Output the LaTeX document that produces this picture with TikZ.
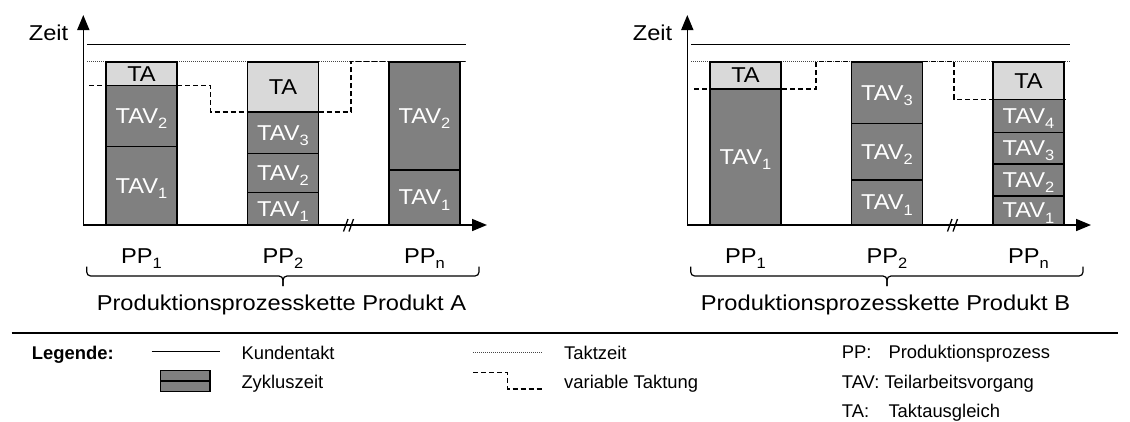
\documentclass[tikz,border=0pt]{standalone}
\usepackage{fontspec}
\usepackage{graphicx}
\setmainfont{Liberation Sans}
\usetikzlibrary{arrows.meta}
\definecolor{barfill}{RGB}{128,128,128}
\definecolor{tafill}{RGB}{217,217,217}
\definecolor{dotgray}{RGB}{70,70,70}
\newcommand\sbs[1]{\raisebox{-0.24em}{\fontsize{15}{15}\selectfont #1}}
\newcommand\st[1]{\scalebox{1.1}[1]{#1}}
\tikzset{
  cfont/.style={font=\fontsize{21.5}{21.5}\selectfont},
  lfont/.style={font=\fontsize{18.4}{18.4}\selectfont},
  seg/.style={draw, line width=1.3, fill=barfill, text=white, cfont, inner sep=0pt,
    text depth=0pt, minimum width=71, anchor=north west, outer sep=0pt},
  taseg/.style={seg, fill=tafill, text=black},
  axisline/.style={line width=1.6, -{Triangle[length=15pt,width=12pt]}},
  kunde/.style={line width=1.3},
  takt/.style={line width=1, dotgray, dash pattern=on 1pt off 1pt},
  vartakt/.style={line width=1.2, dash pattern=on 5pt off 3pt},
  brc/.style={line width=1.2, rounded corners=4},
  brk/.style={line width=1.3},
  lbl/.style={cfont, inner sep=0pt, anchor=base},
  leg/.style={lfont, inner sep=0pt, anchor=base west},
}
% frame of one chart: #1 = name prefix, #2 = product letter
\newcommand\chartframe[2]{%
  \coordinate (#1o) at (83.3,225);
  \coordinate (#1y) at (83.3,15);
  \coordinate (#1x) at (487,225);
  \coordinate (#1k1) at (87,44.3);
  \coordinate (#1k2) at (466,44.3);
  \coordinate (#1t1) at (87,61.7);
  \coordinate (#1t2) at (467,61.7);
  \draw[kunde] (#1k1) -- (#1k2);
  \draw[takt] (#1t1) -- (#1t2);
  \draw[axisline] (#1o) -- (#1y);
  \draw[axisline] (#1o) -- (#1x);
  \coordinate (#1b1a) at (343.5,231.5);
  \coordinate (#1b1b) at (348,219);
  \coordinate (#1b2a) at (349,231.5);
  \coordinate (#1b2b) at (353.5,219);
  \draw[brk] (#1b1a) -- (#1b1b);
  \draw[brk] (#1b2a) -- (#1b2b);
  \node[lbl, anchor=base east] (#1zeit) at (68.5,40.7) {\st{Zeit}};
  \node[lbl] (#1pp1) at (141.5,263) {\st{PP\sbs{1}}};
  \node[lbl] (#1pp2) at (283,263) {\st{PP\sbs{2}}};
  \node[lbl] (#1ppn) at (424.5,263) {\st{PP\sbs{n}}};
  \coordinate (#1bl) at (86.7,266.7);
  \coordinate (#1br) at (479,266.7);
  \coordinate (#1bm) at (283,276);
  \coordinate (#1bt) at (283,286);
  \draw[brc] (#1bl) |- (#1bm) -- (#1bt);
  \draw[brc] (#1br) |- (#1bm) -- (#1bt);
  \node[lbl] (#1chain) at (281.5,310) {\st{Produktionsprozesskette Produkt #2}};
}
\begin{document}
\begin{tikzpicture}[x=1pt, y=-1pt]
\useasboundingbox (0,0) rectangle (1130,421);

% ---------------- Chart A ----------------
\chartframe{A}{A}
\coordinate (Av1) at (89,85.7);
\coordinate (Av2) at (210.7,85.7);
\coordinate (Av3) at (210.7,112);
\coordinate (Av4) at (351,112);
\coordinate (Av5) at (351,61.7);
\coordinate (Av6) at (467,61.7);
\draw[vartakt] (Av1) -- (Av2) -- (Av3) -- (Av4) -- (Av5) -- (Av6);

\node[taseg, minimum height=23.7] (A1ta) at (106,62) {\st{TA}};
\node[seg, minimum height=61]   (A1t2) at (106,85.7) {\st{TAV\sbs{2}}};
\node[seg, minimum height=78.3] (A1t1) at (106,146.7) {\st{TAV\sbs{1}}};

\node[taseg, minimum height=50] (A2ta) at (247.5,62) {\st{TA}};
\node[seg, minimum height=41.3] (A2t3) at (247.5,112) {\st{TAV\sbs{3}}};
\node[seg, minimum height=39.4] (A2t2) at (247.5,153.3) {\st{TAV\sbs{2}}};
\node[seg, minimum height=32.3] (A2t1) at (247.5,192.7) {\st{TAV\sbs{1}}};

\node[seg, minimum height=108] (A3t2) at (389,62) {\st{TAV\sbs{2}}};
\node[seg, minimum height=55]  (A3t1) at (389,170) {\st{TAV\sbs{1}}};

% ---------------- Chart B ----------------
\begin{scope}[shift={(604,0)}]
\chartframe{B}{B}
\coordinate (Bv1) at (90,89);
\coordinate (Bv2) at (212,89);
\coordinate (Bv3) at (212,61.7);
\coordinate (Bv4) at (350,61.7);
\coordinate (Bv5) at (350,99.3);
\coordinate (Bv6) at (465,99.3);
\draw[vartakt] (Bv1) -- (Bv2) -- (Bv3) -- (Bv4) -- (Bv5) -- (Bv6);

\node[taseg, minimum height=27] (B1ta) at (106,62) {\st{TA}};
\node[seg, minimum height=136]  (B1t1) at (106,89) {\st{TAV\sbs{1}}};

\node[seg, minimum height=61.3] (B2t3) at (247.5,62) {\st{TAV\sbs{3}}};
\node[seg, minimum height=56.7] (B2t2) at (247.5,123.3) {\st{TAV\sbs{2}}};
\node[seg, minimum height=45]   (B2t1) at (247.5,180) {\st{TAV\sbs{1}}};

\node[taseg, minimum height=37.3] (B3ta) at (389,62) {\st{TA}};
\node[seg, minimum height=33]   (B3t4) at (389,99.3) {\st{TAV\sbs{4}}};
\node[seg, minimum height=31.7] (B3t3) at (389,132.3) {\st{TAV\sbs{3}}};
\node[seg, minimum height=32]   (B3t2) at (389,164) {\st{TAV\sbs{2}}};
\node[seg, minimum height=29]   (B3t1) at (389,196) {\st{TAV\sbs{1}}};
\end{scope}

% ---------------- Legend ----------------
\coordinate (s1) at (11.7,332.7);
\coordinate (s2) at (1118,332.7);
\draw[line width=2] (s1) -- (s2);

\node[leg, font=\bfseries\fontsize{18.4}{18.4}\selectfont] (legende) at (31.7,359) {Legende:};

\coordinate (lk1) at (151.7,351.7);
\coordinate (lk2) at (219.5,351.7);
\draw[kunde] (lk1) -- (lk2);
\node[leg] (lkt) at (241.3,359) {Kundentakt};

\draw[fill=barfill, line width=1.2] (160.7,370.7) rectangle (210,381);
\draw[fill=barfill, line width=1.2] (160.7,381) rectangle (210,391.7);
\node[leg] (lzt) at (241.3,388.5) {Zykluszeit};

\coordinate (ld1) at (473.3,352.3);
\coordinate (ld2) at (541.7,352.3);
\draw[takt] (ld1) -- (ld2);
\node[leg] (ltz) at (564,359) {Taktzeit};

\coordinate (lv1) at (473.3,372.3);
\coordinate (lv2) at (507.5,372.3);
\coordinate (lv3) at (507.5,389);
\coordinate (lv4) at (541.7,389);
\draw[vartakt] (lv1) -- (lv2) -- (lv3) -- (lv4);
\node[leg] (lvt) at (564,388.5) {variable Taktung};

\node[leg] (lpp) at (841.7,358.5) {PP:};
\node[leg] (lppt) at (888.3,358.5) {Produktionsprozess};
\node[leg] (ltav) at (841.7,388.5) {TAV: Teilarbeitsvorgang};
\node[leg] (lta) at (841.7,417) {TA:};
\node[leg] (ltat) at (888.3,417) {Taktausgleich};
\end{tikzpicture}
\end{document}
